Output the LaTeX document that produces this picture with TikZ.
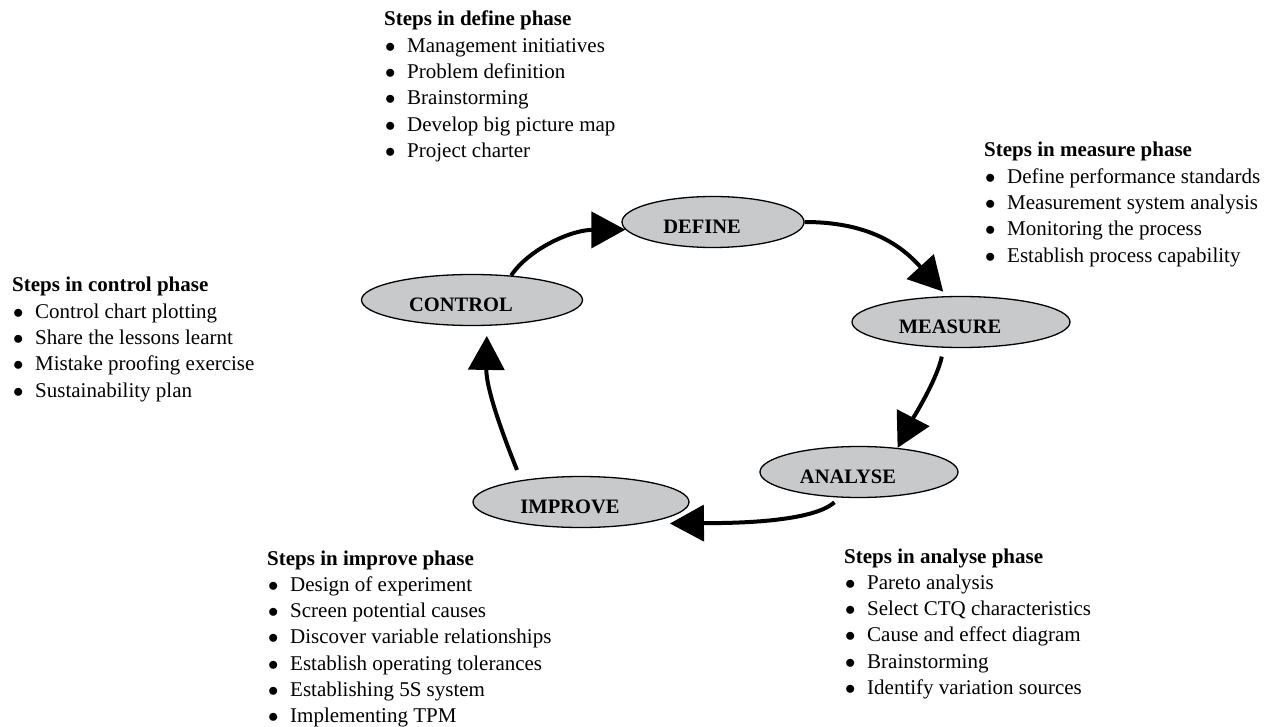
\documentclass[tikz,border=0pt]{standalone}
\usepackage{fontspec}
\setmainfont{Liberation Serif}
\usetikzlibrary{shapes.geometric}
\usetikzlibrary{arrows.meta}

\definecolor{phasefill}{RGB}{200,201,203}
\newcommand{\stepitem}{\makebox[23pt][l]{\hspace{1pt}$\bullet$}}
\newcommand{\steplist}[2]{\begin{tabular}[t]{@{}l@{}}\textbf{#1}\\#2\end{tabular}}

\tikzset{
  phase/.style={ellipse, draw, line width=1.3pt, fill=phasefill, inner sep=0pt,
    minimum height=51pt, text height=22.6pt, text depth=0pt,
    font=\bfseries\fontsize{20.5}{24}\selectfont,
    execute at begin node={\hspace*{-22pt}}},
  steps/.style={anchor=base west, inner sep=0pt, font=\fontsize{21}{26.3}\selectfont},
  flow/.style={line width=4pt, -{Triangle[length=34pt,width=36pt]}}
}

\begin{document}
\begin{tikzpicture}[x=1pt,y=-1pt]
        \useasboundingbox (0,0) rectangle (1267,727);
        % Nodes
        \node[phase, minimum width=182pt] (define)  at (713,222) {DEFINE};
        \node[phase, minimum width=218pt] (measure) at (961,322) {MEASURE};
        \node[phase, minimum width=198pt] (analyse) at (859,472) {ANALYSE};
        \node[phase, minimum width=216pt] (improve) at (581,502) {IMPROVE};
        \node[phase, minimum width=221pt] (control) at (472,300) {CONTROL};

        % Steps
        \node[steps] (define-steps) at (384,26) {\steplist{Steps in define phase}{%
          \stepitem Management initiatives\\ \stepitem Problem definition\\
          \stepitem Brainstorming\\ \stepitem Develop big picture map\\
          \stepitem Project charter}};
        \node[steps] (measure-steps) at (984,157) {\steplist{Steps in measure phase}{%
          \stepitem Define performance standards\\ \stepitem Measurement system analysis\\
          \stepitem Monitoring the process\\ \stepitem Establish process capability}};
        \node[steps] (control-steps) at (12,292) {\steplist{Steps in control phase}{%
          \stepitem Control chart plotting\\ \stepitem Share the lessons learnt\\
          \stepitem Mistake proofing exercise\\ \stepitem Sustainability plan}};
        \node[steps] (improve-steps) at (267,565) {\steplist{Steps in improve phase}{%
          \stepitem Design of experiment\\ \stepitem Screen potential causes\\
          \stepitem Discover variable relationships\\ \stepitem Establish operating tolerances\\
          \stepitem Establishing 5S system\\ \stepitem Implementing TPM}};
        \node[steps] (analyse-steps) at (844,563) {\steplist{Steps in analyse phase}{%
          \stepitem Pareto analysis\\ \stepitem Select CTQ characteristics\\
          \stepitem Cause and effect diagram\\ \stepitem Brainstorming\\
          \stepitem Identify variation sources}};

        % Cycle
        \draw[flow] (control.32) .. controls (528,250) and (570,230) .. (define.185);
        \draw[flow, shorten >=6pt] (define.east) .. controls (875,222) and (905,250) .. (measure.118);
        \draw[flow, shorten <=9pt] (measure.236) .. controls (937,380) and (912,420) .. (analyse.32);
        \draw[flow, shorten <=7pt, shorten >=29pt] (analyse.233) .. controls (810,524) and (720,523) .. (improve.-20);
        \draw[flow, shorten <=11pt, shorten >=10pt] (improve.160) .. controls (505,440) and (486,390) .. (control.-60);
    \end{tikzpicture}
\end{document}
